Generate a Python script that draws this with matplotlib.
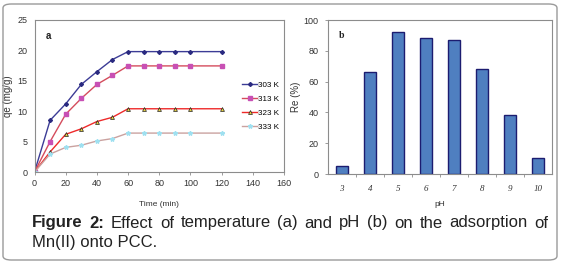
import matplotlib
matplotlib.use("Agg")
import matplotlib.pyplot as plt
from matplotlib.patches import FancyBboxPatch
import numpy as np

plt.rcParams['font.family'] = ['Liberation Sans', 'DejaVu Sans']

# ---- data ----
time_min = [0, 10, 20, 30, 40, 50, 60, 70, 80, 90, 100, 120]
q_303 = [0, 8.5, 11.2, 14.4, 16.5, 18.5, 19.8, 19.8, 19.8, 19.8, 19.8, 19.8]
q_313 = [0, 5.0, 9.5, 12.1, 14.4, 15.9, 17.45, 17.45, 17.45, 17.45, 17.45, 17.45]
q_323 = [0, 3.3, 6.2, 7.1, 8.3, 9.0, 10.4, 10.4, 10.4, 10.4, 10.4, 10.4]
q_333 = [0, 2.95, 4.05, 4.4, 5.1, 5.5, 6.4, 6.4, 6.4, 6.4, 6.4, 6.4]
series_labels = ["303 K", "313 K", "323 K", "333 K"]

ph_labels = ["3", "4", "5", "6", "7", "8", "9", "10"]
removal = [5.5, 66.5, 92, 88, 87, 68, 38.5, 10.5]

W, H = 564, 264
fig = plt.figure(figsize=(W / 100, H / 100), dpi=100)

def rect(l, t, r, b):
    return [l / W, 1 - b / H, (r - l) / W, (b - t) / H]

# outer rounded border
border = FancyBboxPatch((3 / W, 4 / H), 554 / W, 256 / H,
                        boxstyle="round,pad=0,rounding_size=0.015",
                        transform=fig.transFigure, fill=False,
                        edgecolor="#9a9a9a", linewidth=1.0)
fig.patches.append(border)

grey = "#8c8c8c"
tick_fs = 6.5

# ---- panel a ----
ax1 = fig.add_axes(rect(34.5, 20, 284, 172))
styles = [
    dict(color="#3c3c96", marker="D", ms=2.0, mfc="#2a2a80", mec="#2a2a80"),
    dict(color="#d44c5c", marker="s", ms=3.0, mfc="#c850b4", mec="#c850b4"),
    dict(color="#ee2a2a", marker="^", ms=2.8, mfc="#e8d040", mec="#202020", mew=0.5),
    dict(color="#caa2a0", marker="*", ms=3.2, mfc="#9fe0f0", mec="#9fe0f0"),
]
for y, lab, st in zip([q_303, q_313, q_323, q_333], series_labels, styles):
    ax1.plot(time_min, y, lw=1.0, label=lab, **st)
ax1.set_xlim(0, 160)
ax1.set_ylim(0, 25)
ax1.set_xticks(np.arange(0, 161, 20))
ax1.set_yticks(np.arange(0, 26, 5))
ax1.tick_params(axis="x", direction="out", length=2, width=0.6, color=grey,
                labelsize=tick_fs, labelcolor="#333333", pad=3)
ax1.tick_params(axis="y", length=0, labelsize=tick_fs, labelcolor="#333333", pad=5)
for s in ax1.spines.values():
    s.set_color(grey)
    s.set_linewidth(0.8)
ax1.set_xlabel("Time (min)", fontsize=6, color="#333333")
ax1.xaxis.set_label_coords(0.5, -0.19)
ax1.set_ylabel("qe (mg/g)", fontsize=7, color="#333333")
ax1.yaxis.set_label_coords(-0.086, 0.5)
ax1.text(0.045, 0.93, "a", transform=ax1.transAxes, fontsize=7,
         fontweight="bold", va="top", color="#222222")
ax1.legend(loc="upper left", bbox_to_anchor=(0.82, 0.62), frameon=False,
           fontsize=5.8, handlelength=1.8, handletextpad=0.2,
           labelspacing=0.8, borderaxespad=0)

# ---- panel b ----
ax2 = fig.add_axes(rect(327.7, 20, 552, 174))
x = np.arange(len(ph_labels))
ax2.bar(x, removal, width=0.44, color="#4f7fc0", edgecolor="#1c1c70",
        linewidth=1.0)
ax2.set_xlim(-0.5, len(ph_labels) - 0.5)
ax2.set_ylim(0, 100)
ax2.set_yticks(np.arange(0, 101, 20))
ax2.set_xticks(x)
ax2.set_xticklabels(ph_labels, fontfamily="Liberation Serif", style="italic",
                    fontsize=6.5, color="#333333")
ax2.set_xticks(np.arange(0.5, len(ph_labels) - 0.5, 1), minor=True)
ax2.tick_params(axis="x", which="major", length=0, pad=8)
ax2.tick_params(axis="x", which="minor", direction="out", length=2.5,
                width=0.6, color=grey)
ax2.tick_params(axis="y", direction="out", length=2.5, width=0.6, color=grey,
                labelsize=tick_fs, labelcolor="#333333", pad=4)
for s in ax2.spines.values():
    s.set_color(grey)
    s.set_linewidth(0.8)
ax2.set_xlabel("pH", fontsize=6, color="#333333")
ax2.xaxis.set_label_coords(0.5, -0.175)
ax2.set_ylabel("Re (%)", fontsize=7, color="#333333")
ax2.yaxis.set_label_coords(-0.119, 0.5)
ax2.text(0.05, 0.93, "b", transform=ax2.transAxes, fontsize=7,
         fontweight="bold", va="top", color="#222222", fontfamily="Liberation Serif")

# ---- caption (justified first line) ----
cap_fs = 12
x0, x1 = 32, 548
fig.canvas.draw()
renderer = fig.canvas.get_renderer()
words1 = [("Figure", True), ("2:", True), ("Effect", False), ("of", False),
          ("temperature", False), ("(a)", False), ("and", False), ("pH", False),
          ("(b)", False), ("on", False), ("the", False), ("adsorption", False),
          ("of", False)]
objs = []
for w, b in words1:
    t = fig.text(0, 1 - 223 / H, w, fontsize=cap_fs, va="center", ha="left",
                 fontweight="bold" if b else "normal", color="#222222")
    objs.append(t)
widths = [o.get_window_extent(renderer).width for o in objs]
gap = ((x1 - x0) - sum(widths)) / (len(objs) - 1)
pos = x0
for o, w in zip(objs, widths):
    o.set_x(pos / W)
    pos += w + gap
fig.text(x0 / W, 1 - 243 / H, "Mn(II) onto PCC.", fontsize=cap_fs,
         va="center", ha="left", color="#222222")

fig.savefig("out.png", dpi=100)
